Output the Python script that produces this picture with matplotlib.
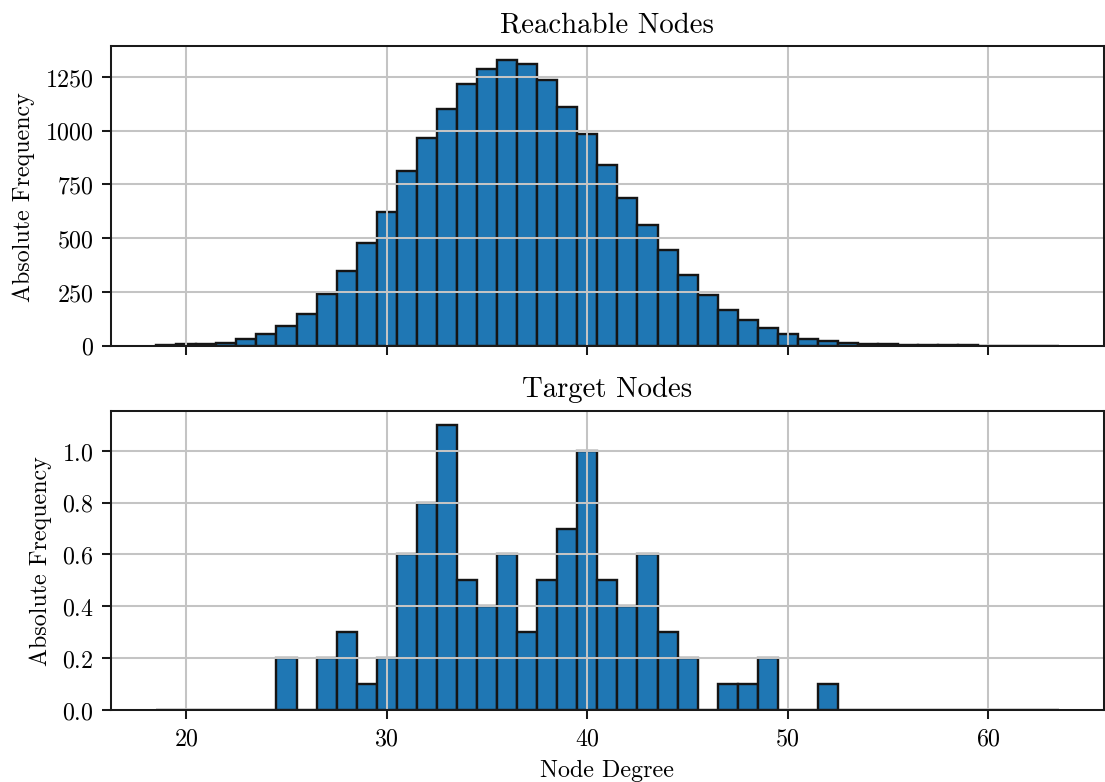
import matplotlib.pyplot as plt
import numpy as np

plt.rcParams['font.family'] = 'serif'
plt.rcParams['font.serif'] = ['cmr10']
plt.rcParams['mathtext.fontset'] = 'cm'
plt.rcParams['axes.formatter.use_mathtext'] = True
plt.rcParams['axes.unicode_minus'] = False

# node degree bins (centres) and per-degree frequencies
degrees = np.arange(19, 64)
reachable = [2, 6, 8, 12, 30, 53, 93, 148, 238, 347,
             475, 622, 810, 964, 1098, 1218, 1285, 1326, 1308, 1234,
             1109, 985, 838, 688, 559, 444, 329, 237, 165, 118,
             80, 55, 33, 22, 12, 8, 6, 4, 3, 2,
             1, 0, 0, 0, 0]
target = [0, 0, 0, 0, 0, 0, 0.2, 0, 0.2, 0.3,
          0.1, 0.2, 0.6, 0.8, 1.1, 0.5, 0.4, 0.6, 0.3, 0.5,
          0.7, 1.0, 0.5, 0.4, 0.6, 0.3, 0.2, 0, 0.1, 0.1,
          0.2, 0, 0, 0.1, 0, 0, 0, 0, 0, 0,
          0, 0, 0, 0, 0]

fig, (ax1, ax2) = plt.subplots(2, 1, sharex=True, figsize=(6.4, 4.53), dpi=172.8)
fig.subplots_adjust(left=0.1004, right=0.998, top=0.94, bottom=0.092, hspace=0.217)

for ax, vals, title in [(ax1, reachable, 'Reachable Nodes'), (ax2, target, 'Target Nodes')]:
    ax.bar(degrees, vals, width=1, color='#1f77b4', edgecolor='#151515', linewidth=1.0)
    ax.set_title(title, fontsize=12)
    ax.set_ylabel('Absolute Frequency', fontsize=10)
    ax.grid(True, color='#c4c4c4', linewidth=0.85)
    ax.tick_params(labelsize=10, length=3.8, width=0.85, color='#1a1a1a')
    for s in ax.spines.values():
        s.set_linewidth(0.85)
        s.set_color('#1a1a1a')

ax1.set_yticks([0, 250, 500, 750, 1000, 1250])
ax2.set_yticks([0.0, 0.2, 0.4, 0.6, 0.8, 1.0])
ax2.set_xticks([20, 30, 40, 50, 60])
ax2.set_xlabel('Node Degree', fontsize=10)

plt.savefig('out.png', dpi=172.8)
